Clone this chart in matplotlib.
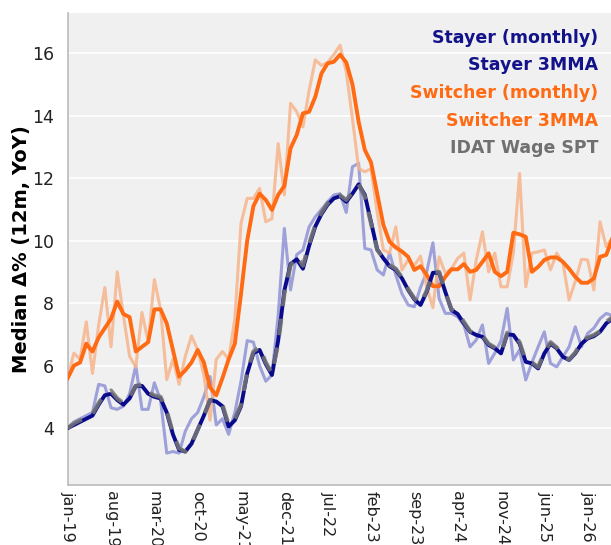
import matplotlib
matplotlib.use("Agg")
import matplotlib.pyplot as plt
import numpy as np

# x tick labels (every 7 months starting jan-19)
tick_labels = ["jan-19", "aug-19", "mar-20", "oct-20", "may-21", "dec-21", "jul-22",
               "feb-23", "sep-23", "apr-24", "nov-24", "jun-25", "jan-26"]

stayer_3mma = [4.0, 4.1, 4.2, 4.3, 4.4, 4.75, 5.05, 5.1, 4.9, 4.75, 4.95, 5.35, 5.35, 5.1, 5.0,
               4.95, 4.5, 3.8, 3.3, 3.25, 3.5, 3.95, 4.4, 4.9, 4.85, 4.7, 4.05, 4.25, 4.7, 5.75,
               6.4, 6.5, 6.05, 5.7, 6.8, 8.4,
               9.25, 9.4, 9.1, 9.83, 10.45, 10.85, 11.15, 11.35, 11.42, 11.24, 11.5, 11.8, 11.46, 10.6,
               9.72, 9.43, 9.18, 9.06, 8.79, 8.42, 8.12, 7.94, 8.36, 8.97, 8.97, 8.36, 7.78, 7.65,
               7.35, 7.08, 6.98, 6.92, 6.66, 6.55, 6.39, 7.0, 6.98, 6.7, 6.12, 6.07, 5.91, 6.39,
               6.7, 6.55, 6.28, 6.18, 6.39, 6.7, 6.87, 6.94, 7.08, 7.35, 7.5, 7.65]

idat_spt = [4.0, 4.15, 4.25, 4.35, 4.45, 4.8, 5.1, 5.2, 4.95, 4.8, 5.0, 5.35, 5.4, 5.15, 5.05,
            5.0, 4.55, 3.85, 3.35, 3.25, 3.5, 3.95, 4.4, 4.9, 4.9, 4.75, 4.1, 4.3, 4.75, 5.8,
            6.45, 6.6, 6.1, 5.75, 6.7, 8.3,
            9.2, 9.5, 9.2, 9.9, 10.5, 10.9, 11.2, 11.42, 11.45, 11.3, 11.55, 11.8, 11.4, 10.55,
            9.7, 9.45, 9.22, 9.1, 8.82, 8.45, 8.15, 7.98, 8.4, 9.0, 9.0, 8.35, 7.8, 7.7,
            7.4, 7.1, 7.0, 6.96, 6.7, 6.58, 6.42, 7.05, 7.02, 6.75, 6.15, 6.1, 5.95, 6.42,
            6.75, 6.58, 6.3, 6.2, 6.42, 6.75, 6.9, 6.98, 7.1, 7.4, 7.55, 7.7]

stayer_monthly = [4.0, 4.2, 4.3, 4.4, 4.5, 5.4, 5.35, 4.65, 4.6, 4.7, 5.1, 6.0, 4.6, 4.6, 5.45,
                  4.9, 3.2, 3.25, 3.2, 3.9, 4.3, 4.5, 5.0, 5.65, 4.1, 4.3, 3.8, 4.5, 5.5, 6.8,
                  6.75, 6.0, 5.5, 5.7, 7.6, 10.39,
                  8.42, 9.55, 9.7, 10.44, 10.76, 11.0, 11.24, 11.46, 11.5, 10.9, 12.36, 12.47, 9.75, 9.7,
                  9.06, 8.9, 9.6, 8.9, 8.3, 7.94, 7.88, 8.5, 9.0, 9.93, 8.15, 7.67, 7.67, 7.56,
                  7.3, 6.6, 6.82, 7.3, 6.07, 6.4, 6.8, 7.83, 6.18, 6.5, 5.54, 6.1, 6.6, 7.08,
                  6.07, 5.96, 6.28, 6.6, 7.24, 6.6, 7.03, 7.2, 7.5, 7.67, 7.6, 7.8]

switcher_3mma = [5.6, 6.0, 6.1, 6.7, 6.45, 6.9, 7.2, 7.5, 8.05, 7.65, 7.55, 6.45, 6.6, 6.75, 7.8,
                 7.8, 7.35, 6.5, 5.65, 5.85, 6.1, 6.5, 6.1, 5.3, 5.05, 5.6, 6.2, 6.7,
                 8.3, 10.0, 11.1, 11.5, 11.3, 10.98, 11.46, 11.75, 12.95, 13.38, 14.07, 14.12, 14.6,
                 15.35, 15.67, 15.72, 15.95, 15.7, 15.0, 13.8, 12.9, 12.5, 11.5, 10.5,
                 9.96, 9.78, 9.65, 9.48, 9.06, 9.18, 8.9, 8.54, 8.54, 8.84, 9.08, 9.08, 9.25, 9.0,
                 9.06, 9.32, 9.59, 9.0, 8.86, 9.0, 10.25, 10.2, 10.12, 9.0, 9.16, 9.38, 9.46, 9.46,
                 9.32, 9.1, 8.84, 8.65, 8.65, 8.79, 9.48, 9.54, 10.07, 10.3]

switcher_monthly = [5.6, 6.4, 6.2, 7.4, 5.75, 7.3, 8.5, 6.6, 9.0, 7.6, 6.3, 5.95, 7.7, 6.75, 8.75,
                    7.8, 5.55, 6.2, 5.4, 6.3, 6.95, 6.5, 5.7, 4.25, 6.2, 6.45, 6.2, 7.5,
                    10.55, 11.35, 11.35, 11.67, 10.6, 10.7, 13.1, 11.46, 14.39, 14.12, 13.64, 14.8,
                    15.78, 15.6, 15.7, 15.95, 16.25, 15.4, 13.9, 12.3, 12.2, 12.3, 10.9, 9.7,
                    9.6, 10.44, 9.06, 9.38, 9.2, 9.5, 8.52, 7.85, 9.48, 8.95, 9.1, 9.43, 9.6, 8.1,
                    9.38, 10.28, 9.0, 9.6, 8.52, 8.52, 9.6, 12.15, 8.52, 9.6, 9.64, 9.7, 9.06, 9.6,
                    9.3, 8.1, 8.7, 9.4, 9.38, 8.42, 10.6, 9.8, 10.1, 10.3]

n = len(stayer_3mma)
x = np.arange(n)

fig = plt.figure(figsize=(6.11, 5.45), dpi=100)
fig.patch.set_facecolor("white")
W, H = 611, 545
left_px, top_px, bottom_px = 67.7, 13, 485
px_per_month = 6.19
right_px = left_px + (n - 1) * px_per_month
ax_w_px = right_px - left_px
ax = fig.add_axes([left_px / W, 1 - bottom_px / H, ax_w_px / W, (bottom_px - top_px) / H])
ax.set_facecolor("#f0f0f0")

c_navy = "#0a0a8c"
c_orange = "#ff6a13"
ax.plot(x, stayer_monthly, color="#7b7fd0", lw=2.2, alpha=0.7, zorder=2)
ax.plot(x, switcher_monthly, color="#f7b48a", lw=2.2, alpha=0.85, zorder=2)
ax.plot(x, switcher_3mma, color=c_orange, lw=2.8, zorder=3)
ax.plot(x, stayer_3mma, color=c_navy, lw=2.8, zorder=3)
ax.plot(x, idat_spt, color="#777777", lw=3.0, ls=(0, (4, 3)), alpha=0.85, zorder=4)

ax.set_xlim(0, n - 1)
ax.set_ylim(2.18, 17.28)
ax.set_yticks([4, 6, 8, 10, 12, 14, 16])
ax.set_xticks(np.arange(len(tick_labels)) * 7)
ax.set_xticklabels(tick_labels, rotation=270, fontsize=11.5, color="#222222")
ax.tick_params(axis="y", labelsize=12.5, length=0, pad=10, colors="#222222")
ax.tick_params(axis="x", length=0, pad=4)
ax.grid(axis="y", color="white", lw=1.2)
ax.set_axisbelow(True)
for s in ["top", "right"]:
    ax.spines[s].set_visible(False)
for s in ["left", "bottom"]:
    ax.spines[s].set_color("#bbbbbb")
    ax.spines[s].set_linewidth(1.2)
ax.set_ylabel("Median Δ% (12m, YoY)", fontsize=14, fontweight="bold")
ax.yaxis.set_label_coords((31 - left_px) / ax_w_px, 0.5)

legend_items = [("Stayer (monthly)", "#12128a"), ("Stayer 3MMA", "#12128a"),
                ("Switcher (monthly)", "#ff6a13"), ("Switcher 3MMA", "#ff6a13"),
                ("IDAT Wage SPT", "#707070")]
for k, (txt, col) in enumerate(legend_items):
    fig.text(598 / W, 1 - (38 + 27.5 * k) / H, txt, color=col, fontsize=12.5,
             fontweight="bold", ha="right", va="center")

fig.savefig("out.png", dpi=100)
